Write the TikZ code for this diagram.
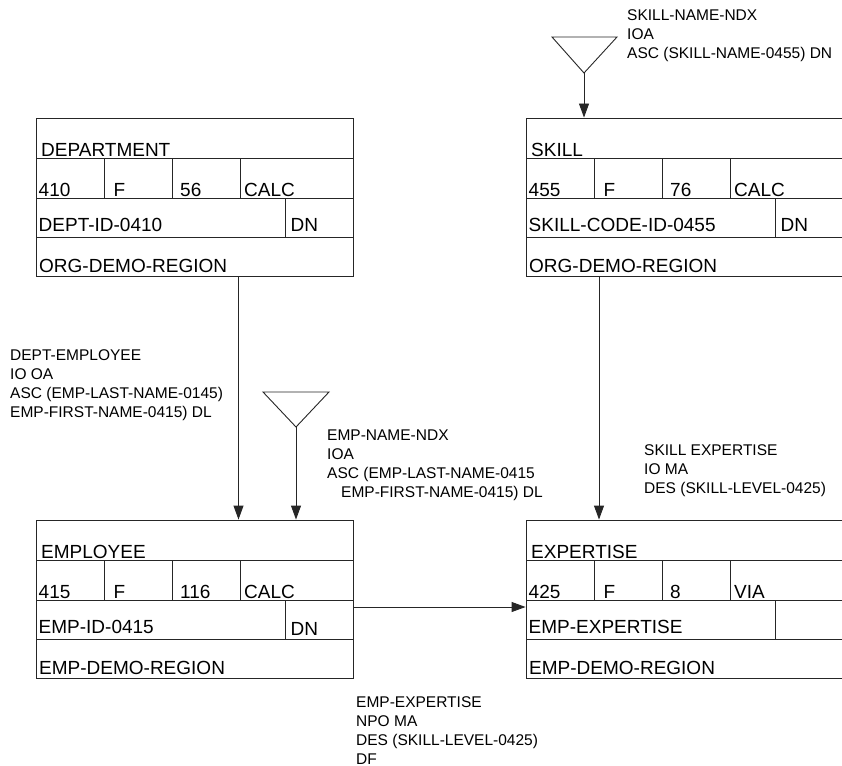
\documentclass[tikz,border=0pt]{standalone}
\usepackage{fontspec}
\setmainfont{Liberation Sans}
\usetikzlibrary{arrows.meta, calc}

\begin{document}
\begin{tikzpicture}[
    x=1pt, y=-1pt,
    recbox/.style = {rectangle, draw=black!85, line width=0.9pt, minimum width=317pt, minimum height=158pt, inner sep=0pt},
    rule/.style = {draw=black!85, line width=0.9pt},
    field/.style = {anchor=base west, inner sep=0pt, font=\fontsize{19}{22}\selectfont},
    note/.style = {anchor=base west, inner sep=0pt, align=left, font=\fontsize{15.5}{19}\selectfont},
    arrow/.style = {draw=black!85, line width=0.9pt, -{Triangle[length=14pt, width=10pt]}},
    ndx/.style = {draw=black!85, line width=0.9pt}
]
\useasboundingbox (0,0) rectangle (842,765);

% DEPARTMENT record (top left)
\begin{scope}[shift={(36,118)}]
\node[recbox] (dept) at (158.5,79) {};
\draw[rule] (0,40) -- (317,40) (0,80) -- (317,80) (0,119) -- (317,119);
\draw[rule] (68,40) -- (68,80) (136,40) -- (136,80) (204,40) -- (204,80) (249,80) -- (249,119);
\node[field] (dept-name) at (5,38) {DEPARTMENT};
\node[field] (dept-id) at (2.5,78) {410};
\node[field] (dept-type) at (77.5,78) {F};
\node[field] (dept-len) at (144,78) {56};
\node[field] (dept-mode) at (208,78) {CALC};
\node[field] (dept-key) at (2.5,113) {DEPT-ID-0410};
\node[field] (dept-dup) at (254.5,113) {DN};
\node[field] (dept-area) at (3,154) {ORG-DEMO-REGION};
\end{scope}

% SKILL record (top right)
\begin{scope}[shift={(526,118)}]
\node[recbox] (skill) at (158.5,79) {};
\draw[rule] (0,40) -- (317,40) (0,80) -- (317,80) (0,119) -- (317,119);
\draw[rule] (68,40) -- (68,80) (136,40) -- (136,80) (204,40) -- (204,80) (249,80) -- (249,119);
\node[field] (skill-name) at (5,38) {SKILL};
\node[field] (skill-id) at (2.5,78) {455};
\node[field] (skill-type) at (77.5,78) {F};
\node[field] (skill-len) at (144,78) {76};
\node[field] (skill-mode) at (208,78) {CALC};
\node[field] (skill-key) at (2.5,113) {SKILL-CODE-ID-0455};
\node[field] (skill-dup) at (254.5,113) {DN};
\node[field] (skill-area) at (3,154) {ORG-DEMO-REGION};
\end{scope}

% EMPLOYEE record (bottom left)
\begin{scope}[shift={(36,520)}]
\node[recbox] (emp) at (158.5,79) {};
\draw[rule] (0,40) -- (317,40) (0,80) -- (317,80) (0,119) -- (317,119);
\draw[rule] (68,40) -- (68,80) (136,40) -- (136,80) (204,40) -- (204,80) (249,80) -- (249,119);
\node[field] (emp-name) at (5,38) {EMPLOYEE};
\node[field] (emp-id) at (2.5,78) {415};
\node[field] (emp-type) at (77.5,78) {F};
\node[field] (emp-len) at (144,78) {116};
\node[field] (emp-mode) at (208,78) {CALC};
\node[field] (emp-key) at (2.5,113) {EMP-ID-0415};
\node[field] (emp-dup) at (254.5,115) {DN};
\node[field] (emp-area) at (3,154) {EMP-DEMO-REGION};
\end{scope}

% EXPERTISE record (bottom right)
\begin{scope}[shift={(526,520)}]
\node[recbox] (exp) at (158.5,79) {};
\draw[rule] (0,40) -- (317,40) (0,80) -- (317,80) (0,119) -- (317,119);
\draw[rule] (68,40) -- (68,80) (136,40) -- (136,80) (204,40) -- (204,80) (249,80) -- (249,119);
\node[field] (exp-name) at (5,38) {EXPERTISE};
\node[field] (exp-id) at (2.5,78) {425};
\node[field] (exp-type) at (77.5,78) {F};
\node[field] (exp-len) at (144,78) {8};
\node[field] (exp-mode) at (208,78) {VIA};
\node[field] (exp-key) at (2.5,113) {EMP-EXPERTISE};
\node[field] (exp-area) at (3,154) {EMP-DEMO-REGION};
\end{scope}

% Index triangles
\draw[ndx] (552,37) -- (617,37) -- (584,73) -- cycle;
\coordinate (skill-ndx) at (584,73);
\draw[ndx] (263,392) -- (329,392) -- (296,427) -- cycle;
\coordinate (emp-ndx) at (296,427);

% Set connectors
\draw[arrow] (skill-ndx) -- (skill-ndx |- skill.north);
\draw[arrow] ([xshift=44pt]dept.south) -- ([xshift=44pt]emp.north);
\draw[arrow] (emp-ndx) -- (emp-ndx |- emp.north);
\draw[arrow] ([xshift=-85.5pt]skill.south) -- ([xshift=-85.5pt]exp.north);
\draw[arrow] ([yshift=-8pt]emp.east) -- ([yshift=-8pt]exp.west);

% Set labels (anchored at the baseline of their last line)
\node[note] (skill-ndx-label) at (627,59) {SKILL-NAME-NDX\\IOA\\ASC (SKILL-NAME-0455) DN};
\node[note] (dept-emp-label) at (10,417) {DEPT-EMPLOYEE\\IO OA\\ASC (EMP-LAST-NAME-0145)\\EMP-FIRST-NAME-0415) DL};
\node[note] (emp-ndx-label) at (327,497) {EMP-NAME-NDX\\IOA\\ASC (EMP-LAST-NAME-0415\\\hspace*{14pt}EMP-FIRST-NAME-0415) DL};
\node[note] (skill-exp-label) at (644,493) {SKILL EXPERTISE\\IO MA\\DES (SKILL-LEVEL-0425)};
\node[note] (emp-exp-label) at (356,764) {EMP-EXPERTISE\\NPO MA\\DES (SKILL-LEVEL-0425)\\DF};

\end{tikzpicture}
\end{document}
